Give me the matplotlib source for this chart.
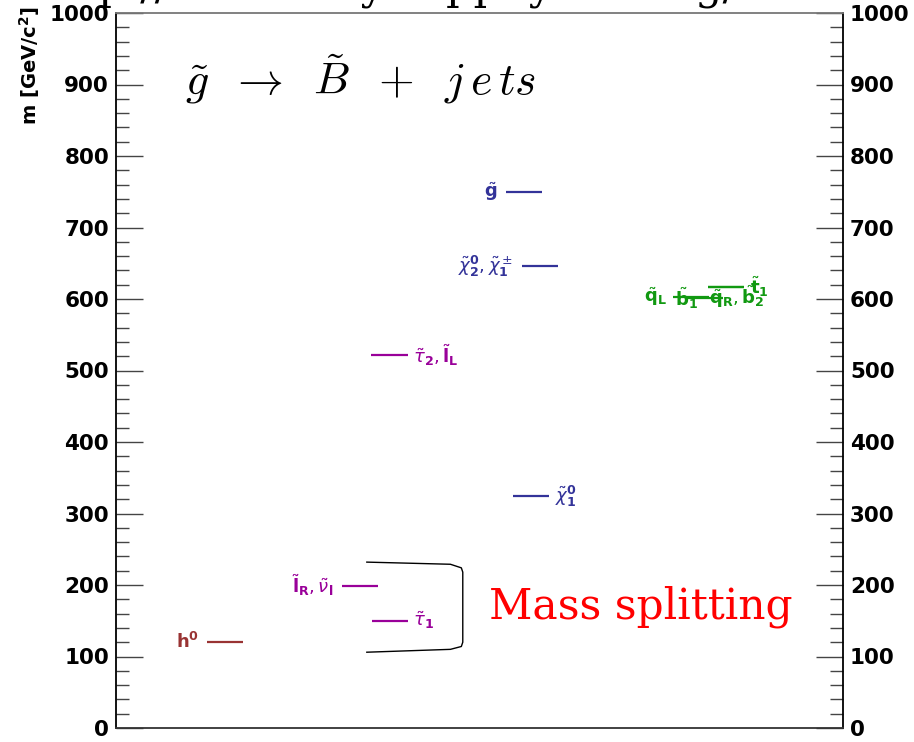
import numpy as np
import matplotlib.pyplot as plt

# sparticle masses [GeV/c^2]
blue_names = [r"$\tilde{\mathbf{g}}$", r"$\tilde{\chi}^\mathbf{0}_\mathbf{2},\tilde{\chi}^\pm_\mathbf{1}$",
              r"$\tilde{\chi}^\mathbf{0}_\mathbf{1}$"]
blue_mass = [750, 646, 324]

purple_names = [r"$\tilde{\tau}_\mathbf{2},\tilde{\mathbf{l}}_\mathbf{L}$", r"$\tilde{\mathbf{l}}_\mathbf{R},\tilde{\nu}_\mathbf{l}$",
                r"$\tilde{\tau}_\mathbf{1}$"]
purple_mass = [522, 199, 150]

green_names = [r"$\tilde{\mathbf{q}}_\mathbf{L}$", r"$\tilde{\mathbf{b}}_\mathbf{1}$",
               r"$\tilde{\mathbf{q}}_\mathbf{R},\tilde{\mathbf{b}}_\mathbf{2}$", r"$\tilde{\mathbf{t}}_\mathbf{1}$"]
green_mass = [603, 601, 603, 617]

higgs_names = [r"$\mathbf{h^0}$"]
higgs_mass = [120]

yticks = np.arange(0, 1001, 100)

# layout: line start x, label x, label alignment (x axis is just columns 0..10)
blue_x = [5.36, 5.58, 5.46]
blue_lx = [5.24, 5.46, 6.04]
blue_ha = ["right", "right", "left"]
purple_x = [3.51, 3.11, 3.52]
purple_lx = [4.09, 2.99, 4.09]
purple_ha = ["left", "right", "left"]
green_x = [7.66, 7.85, 8.14, 8.14]
green_lx = [7.57, 7.84, 8.15, 8.85]
green_ha = ["right", "center", "left", "center"]
green_line_m = [603, 601, 617, 617]
higgs_x = [1.25]
higgs_lx = [1.15]
higgs_ha = ["right"]

plt.rcParams['mathtext.fontset'] = 'dejavusans'

fig = plt.figure(figsize=(9.14, 7.42), dpi=100)
ax = fig.add_axes([116/914, 14/742, 727/914, 715/742])
ax.set_xlim(0, 10)
ax.set_ylim(0, 1000)
ax.set_xticks([])
ax.set_yticks(yticks)
ax.set_yticks(np.arange(0, 1001, 20), minor=True)
ax.tick_params(axis='y', which='both', direction='in', left=True, right=True,
               labelleft=True, labelright=True, width=1, color='#444444')
ax.tick_params(axis='y', which='major', length=19.5, pad=5, labelsize=15.5)
ax.tick_params(axis='y', which='minor', length=9.5)
for lab in ax.get_yticklabels():
    lab.set_fontweight('bold')
for s in ax.spines.values():
    s.set_linewidth(1.3)
ax.spines['top'].set_color('#777777')
ax.spines['bottom'].set_color('#333333')

w = 0.5
lw = 1.6


def draw(names, mass, xs, lxs, has, color, line_m=None):
    if line_m is None:
        line_m = mass
    for n, m, lm, x, lx, ha in zip(names, mass, line_m, xs, lxs, has):
        ax.plot([x, x + w], [lm, lm], color=color, lw=lw, solid_capstyle='butt')
        ax.text(lx, m, n, color=color, ha=ha, va='center', fontsize=13, fontweight='bold')


draw(blue_names, blue_mass, blue_x, blue_lx, blue_ha, '#333399')
draw(purple_names, purple_mass, purple_x, purple_lx, purple_ha, '#990099')
draw(green_names, green_mass, green_x, green_lx, green_ha, '#119911', green_line_m)
draw(higgs_names, higgs_mass, higgs_x, higgs_lx, higgs_ha, '#993333')

# bracket around the light sleptons
bx = [3.45, 4.6, 4.75, 4.77, 4.77, 4.75, 4.6, 3.45]
by = [232, 229, 224, 218, 120, 114, 110, 106]
ax.plot(bx, by, color='black', lw=1.0)
ax.text(5.13, 170, "Mass splitting", color='red', fontsize=30.5, family='DejaVu Serif',
        ha='left', va='center')

ax.text(0.95, 908, r"$\tilde{g} \;\;\rightarrow\;\; \tilde{B} \;\;+\;\; j\,e\,t\,\!s$", fontsize=33,
        math_fontfamily='cm', ha='left', va='center')

fig.text(30/914, 1 - 6/742, r"m [GeV/c$^\mathbf{2}$]", rotation=90, ha='center', va='top',
         fontsize=14, fontweight='bold')

# clipped address line at the very top
fig.text(36/914, 1 + 2/742, "http://www.susy.hepphysics.org/", fontsize=31,
         family='DejaVu Serif', ha='left', va='baseline')

fig.savefig('out.png', dpi=100)
